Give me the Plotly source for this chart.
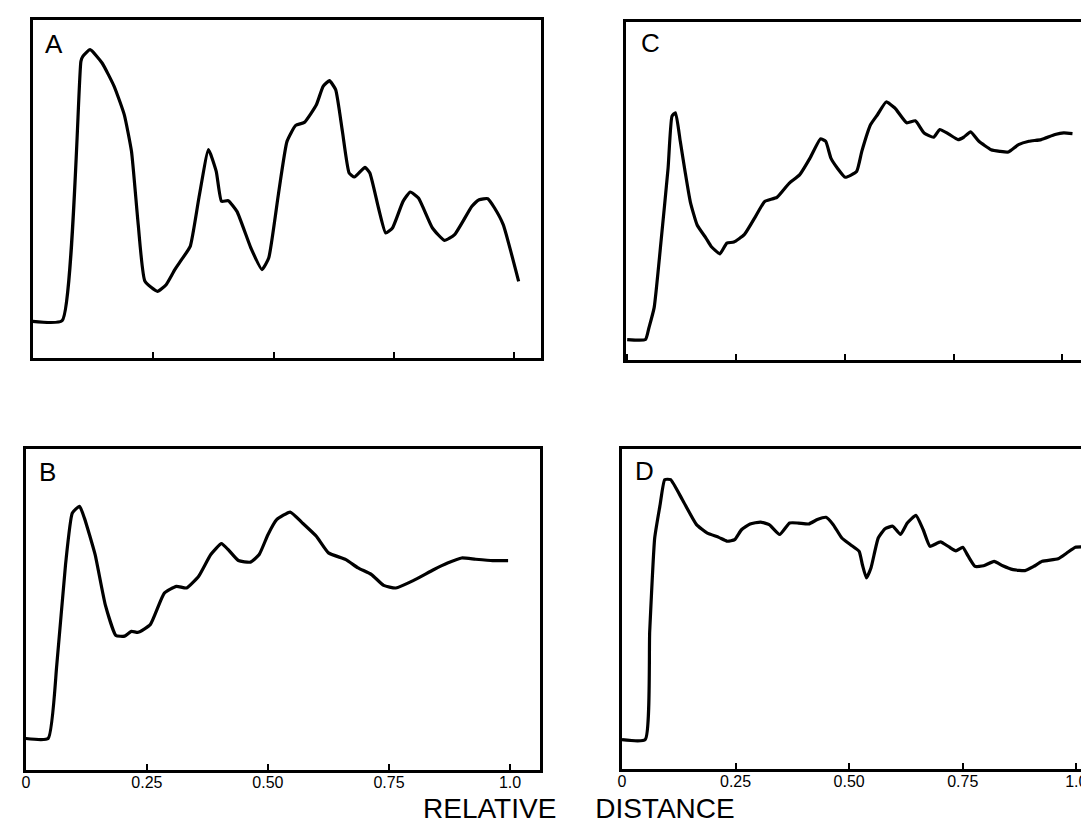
import plotly.graph_objects as go

# ---------------- data ----------------
tick_vals = [0, 0.25, 0.5, 0.75, 1.0]
tick_text = ["0", "0.25", "0.50", "0.75", "1.0"]

A_x = [0, 0.061, 0.100, 0.104, 0.119, 0.144, 0.169, 0.190, 0.205, 0.219, 0.233, 0.259, 0.277,
       0.295, 0.309, 0.327, 0.345, 0.365, 0.381, 0.392, 0.406, 0.424, 0.453, 0.476, 0.490,
       0.510, 0.528, 0.546, 0.564, 0.589, 0.603, 0.616, 0.629, 0.643, 0.657, 0.668, 0.690,
       0.700, 0.718, 0.733, 0.747, 0.769, 0.784, 0.801, 0.830, 0.855, 0.876, 0.912, 0.927,
       0.945, 0.959, 0.977, 1.009]
A_y = [9.5, 9.7, 87.5, 89.0, 91.0, 87.0, 80.0, 71.5, 60.5, 38.5, 21.5, 18.5, 20.5,
       25.0, 28.0, 32.0, 46.5, 61.0, 54.5, 45.5, 45.7, 42.5, 31.5, 25.0, 28.5,
       47.5, 63.5, 68.3, 69.2, 74.5, 80.0, 81.7, 79.0, 66.5, 54.0, 52.8, 55.7,
       54.0, 43.5, 36.0, 37.5, 45.5, 48.3, 46.5, 37.5, 33.8, 35.5, 44.0, 46.0,
       46.3, 43.5, 38.5, 21.5]

B_x = [0, 0.046, 0.064, 0.082, 0.096, 0.111, 0.121, 0.143, 0.164, 0.186, 0.204, 0.218, 0.232,
       0.257, 0.286, 0.311, 0.332, 0.357, 0.382, 0.404, 0.418, 0.439, 0.464, 0.482, 0.500,
       0.518, 0.546, 0.571, 0.600, 0.625, 0.661, 0.686, 0.714, 0.739, 0.764, 0.800, 0.843,
       0.871, 0.900, 0.929, 0.964, 0.996]
B_y = [8.7, 8.7, 31.9, 63.2, 79.4, 81.5, 77.8, 66.4, 50.7, 41.0, 40.8, 42.3, 42.0,
       44.4, 54.3, 56.4, 55.9, 59.6, 66.4, 69.8, 67.9, 64.5, 64.0, 66.4, 72.6,
       77.3, 79.7, 76.3, 72.1, 66.9, 64.8, 62.2, 60.1, 56.7, 55.9, 58.2, 61.7,
       63.7, 65.3, 64.9, 64.5, 64.5]

C_x = [0, 0.042, 0.050, 0.062, 0.078, 0.094, 0.103, 0.111, 0.122, 0.133, 0.145, 0.161, 0.181,
       0.193, 0.213, 0.229, 0.245, 0.269, 0.293, 0.316, 0.344, 0.372, 0.396, 0.420, 0.444,
       0.456, 0.468, 0.483, 0.501, 0.527, 0.539, 0.559, 0.575, 0.595, 0.615, 0.642, 0.662,
       0.682, 0.704, 0.718, 0.738, 0.760, 0.773, 0.789, 0.808, 0.836, 0.856, 0.876, 0.899,
       0.923, 0.951, 0.983, 1.003, 1.023]
C_y = [5.5, 5.5, 9.0, 15.0, 35.0, 56.5, 72.0, 73.0, 64.5, 55.5, 46.5, 39.5, 35.7,
       33.2, 31.0, 34.2, 34.5, 36.7, 41.7, 46.6, 47.8, 52.0, 54.5, 59.5, 65.2,
       64.5, 59.5, 56.5, 53.8, 55.5, 61.5, 69.4, 72.4, 76.2, 74.4, 70.0, 70.6,
       67.0, 65.7, 68.0, 66.7, 65.0, 65.7, 67.3, 64.5, 62.0, 61.5, 61.3, 63.5,
       64.5, 65.0, 66.5, 67.0, 66.8]

D_x = [0, 0.051, 0.061, 0.072, 0.084, 0.094, 0.107, 0.133, 0.164, 0.187, 0.213, 0.232, 0.248,
       0.263, 0.282, 0.305, 0.324, 0.347, 0.369, 0.388, 0.411, 0.430, 0.449, 0.465, 0.484,
       0.503, 0.522, 0.529, 0.538, 0.548, 0.564, 0.579, 0.596, 0.613, 0.628, 0.647, 0.663,
       0.678, 0.701, 0.720, 0.735, 0.750, 0.762, 0.777, 0.796, 0.819, 0.838, 0.861, 0.887,
       0.906, 0.925, 0.960, 0.979, 0.998, 1.013]
D_y = [9.1, 9.1, 43.0, 72.3, 82.8, 90.6, 90.6, 84.3, 76.5, 73.9, 72.5, 71.3, 71.8,
       74.9, 76.7, 77.3, 76.5, 73.4, 77.0, 77.0, 76.7, 78.1, 78.8, 76.5, 72.3,
       70.2, 68.1, 64.0, 59.8, 62.9, 72.3, 75.2, 76.0, 73.4, 77.0, 79.4, 74.9,
       69.7, 71.1, 69.5, 68.3, 69.4, 66.6, 63.4, 63.6, 65.0, 63.6, 62.4, 62.1,
       63.4, 65.0, 65.8, 67.6, 69.4, 69.5]

panel_labels = ["A", "B", "C", "D"]
axis_title = "RELATIVE" + "\u00a0" * 5 + "DISTANCE"

# ---------------- layout geometry ----------------
W, H = 1089, 824
FONT = "Liberation Sans, Arial, sans-serif"

panels = [
    # name, x data, y data, x domain, y domain, x range, y range, tick labels, right border
    ("A", A_x, A_y, [0.01915, 0.48825], [0.57524, 0.98580], [0, 1.056], [-1.5, 100], False, True),
    ("B", B_x, B_y, [0.01276, 0.48714], [0.07561, 0.46517], [0, 1.062], [-1.07, 99.56], True, True),
    ("C", C_x, C_y, [0.56630, 1.0], [0.57318, 0.98301], [-0.003, 1.077], [-0.5, 100], False, False),
    ("D", D_x, D_y, [0.56272, 0.99881], [0.07682, 0.46517], [0, 1.0405], [0, 100.3], True, True),
]

fig = go.Figure()
layout_axes = {}
for i, (name, xs, ys, xd, yd, xr, yr, labels, right) in enumerate(panels, start=1):
    xa = "x" if i == 1 else f"x{i}"
    ya = "y" if i == 1 else f"y{i}"
    fig.add_trace(go.Scatter(
        x=xs, y=ys, xaxis=xa, yaxis=ya, mode="lines",
        line=dict(color="black", width=3.2, shape="spline", smoothing=0.45),
        showlegend=False, hoverinfo="skip"))
    key = "" if i == 1 else str(i)
    layout_axes["xaxis" + key] = dict(
        domain=xd, range=xr, anchor=ya, showgrid=False, zeroline=False,
        showline=True, linecolor="black", linewidth=2.5, mirror=True,
        ticks="inside", ticklen=6, tickwidth=2, tickcolor="black",
        tickvals=tick_vals, ticktext=tick_text, showticklabels=labels,
        ticklabelstandoff=-4,
        tickfont=dict(family=FONT, size=16, color="black"))
    layout_axes["yaxis" + key] = dict(
        domain=yd, range=yr, anchor=xa, showgrid=False, zeroline=False,
        showline=True, linecolor="black", linewidth=2.5, mirror=right,
        showticklabels=False, ticks="")

fig.update_layout(**layout_axes)

letter_pos = {"A": (0.0383, 0.9563), "B": (0.0326, 0.4369),
              "C": (0.5891, 0.9575), "D": (0.5837, 0.4381)}
annotations = []
for lab in panel_labels:
    px, py = letter_pos[lab]
    annotations.append(dict(text=lab, x=px, y=py, xref="paper", yref="paper",
                            xanchor="center", yanchor="middle", showarrow=False,
                            font=dict(family=FONT, size=26, color="black")))
annotations.append(dict(text=axis_title, x=0.523, y=0.0, xref="paper", yref="paper",
                        xanchor="center", yanchor="bottom", yshift=6, showarrow=False,
                        font=dict(family=FONT, size=28, color="black")))

fig.update_layout(
    width=W, height=H, autosize=False,
    margin=dict(l=0, r=0, t=0, b=0, pad=0),
    paper_bgcolor="white", plot_bgcolor="white",
    annotations=annotations,
)

fig.write_html("out.html")
